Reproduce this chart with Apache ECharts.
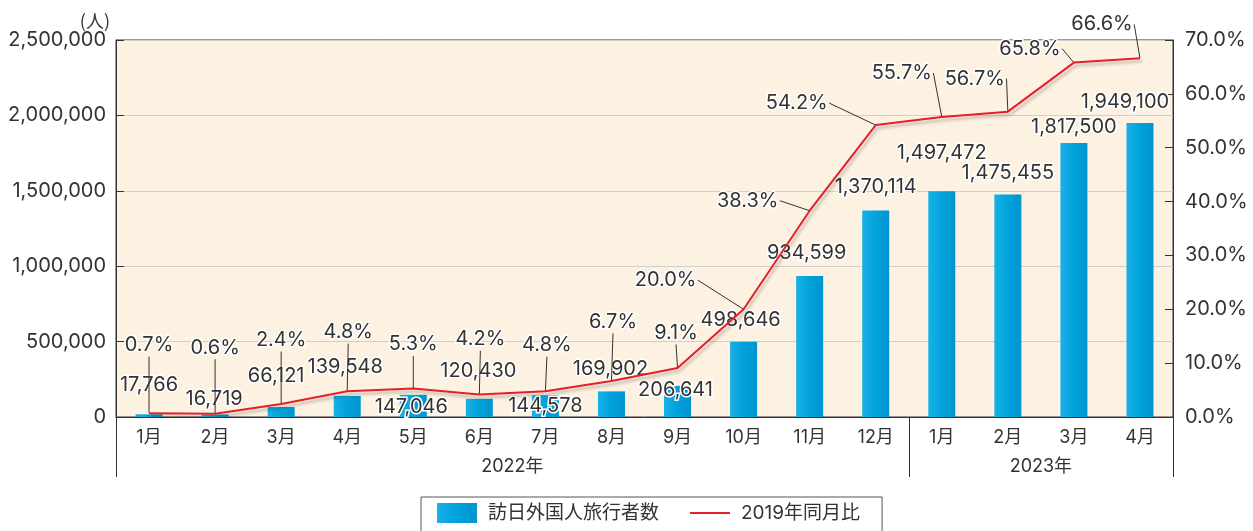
<!DOCTYPE html>
<html><head><meta charset="utf-8">
<script src="https://cdn.jsdelivr.net/npm/echarts@6/dist/echarts.min.js"></script>
<style>html,body{margin:0;padding:0;background:#fff;}#c{width:1253px;height:531px;}</style>
</head><body><div id="c"></div>
<script>
const months = ['1月','2月','3月','4月','5月','6月','7月','8月','9月','10月','11月','12月','1月','2月','3月','4月'];
const visitors = [17766,16719,66121,139548,147046,120430,144578,169902,206641,498646,934599,1370114,1497472,1475455,1817500,1949100];
const ratio2019 = [0.7,0.6,2.4,4.8,5.3,4.2,4.8,6.7,9.1,20.0,38.3,54.2,55.7,56.7,65.8,66.6];
const yearLabels = ['2022年','2023年'];
const yearLabelPos = [6,14];
const yearBounds = [0,12,16];
const leftTicks = [0,500000,1000000,1500000,2000000,2500000];
const rightTicks = [0,10,20,30,40,50,60,70];

// label offsets (styling only)
const barOff = [[0,-29],[-1,-15],[-5,-31],[-2,-29],[-2,12],[-1,-28],[0,11],[-1,-22],[-2,4],[-3,-22],[-3,-23],[0,-23],[0,-38],[0,-22],[0,-16],[-15,-21]];
const lineOff = [[0,-68],[0,-66],[0,-64],[1,-59],[0,-44],[1,-55],[1.5,-46],[1.5,-59],[-1.5,-35],[-78,-29],[-62,-10],[-79,-22],[-40,-44],[-33,-33],[-44,-14],[-38,-34]];

const chart = echarts.init(document.getElementById('c'));
const FONT = 'Inter,"Noto Sans CJK JP",sans-serif';
const JFONT = '"Noto Sans CJK JP","Noto Sans",sans-serif';
const TXT = '#333';
chart.setOption({
  animation:false,
  textStyle:{fontFamily:FONT,color:TXT},
  grid:{left:116,right:80,top:40,bottom:114,show:true,backgroundColor:'#fdf1e1',borderColor:'#333',borderWidth:1},
  legend:{
    top:497,left:421,
    data:[{name:'訪日外国人旅行者数',icon:'rect'},{name:'2019年同月比'}],
    itemWidth:40,itemHeight:20,itemGap:30,
    padding:[6,22,14,16],
    borderColor:'#555',borderWidth:1,
    textStyle:{fontSize:19,color:TXT,fontFamily:FONT,padding:[0,0,0,6]}
  },
  xAxis:[{
    type:'category',data:months,position:'bottom',
    axisLine:{show:true,lineStyle:{color:'#333'}},
    axisTick:{show:false},
    axisLabel:{fontSize:18,color:TXT,margin:12,interval:0,fontFamily:FONT}
  },{
    type:'value',min:0,max:16,position:'bottom',
    axisLine:{show:false},
    splitLine:{show:false},
    axisTick:{show:true,inside:false,length:60,lineStyle:{color:'#333'},customValues:yearBounds},
    axisLabel:{fontSize:18,color:TXT,margin:41,customValues:yearLabelPos,fontFamily:FONT,
      formatter:function(v){const i=yearLabelPos.indexOf(v);return i>=0?yearLabels[i]:'';}}
  }],
  yAxis:[{
    type:'value',min:0,max:2500000,interval:500000,
    name:'(人)',nameGap:10,nameTextStyle:{fontSize:18,color:TXT,align:'right',padding:[0,6,0,0],fontFamily:JFONT},
    axisLine:{show:true,lineStyle:{color:'#333'}},
    axisTick:{show:true,inside:true,length:8,lineStyle:{color:'#333'}},
    splitLine:{show:true,lineStyle:{color:'#cfcfcf'}},
    axisLabel:{fontSize:20,color:TXT,margin:10,customValues:leftTicks,fontFamily:FONT,
      formatter:function(v){return v.toLocaleString('en-US');}}
  },{
    type:'value',min:0,max:70,interval:10,position:'right',
    axisLine:{show:true,lineStyle:{color:'#333'}},
    axisTick:{show:true,inside:true,length:8,lineStyle:{color:'#333'}},
    splitLine:{show:false},
    axisLabel:{fontSize:20,color:TXT,margin:12,customValues:rightTicks,fontFamily:FONT,
      formatter:function(v){return v.toFixed(1)+'%';}}
  }],
  series:[{
    name:'訪日外国人旅行者数',type:'bar',data:visitors,barWidth:27,
    xAxisIndex:0,yAxisIndex:0,
    itemStyle:{color:new echarts.graphic.LinearGradient(0,0,1,0,[{offset:0,color:'#19b0e6'},{offset:0.5,color:'#00a2dc'},{offset:1,color:'#0094d0'}])},
    label:{show:true,position:'top',distance:0,verticalAlign:'middle',fontSize:20,color:TXT,fontFamily:FONT,
      textBorderColor:'#fff',textBorderWidth:3,
      formatter:function(p){return p.value.toLocaleString('en-US');}},
    labelLayout:function(p){const o=barOff[p.dataIndex];return {dx:o[0],dy:o[1]};},
    z:2
  },{
    name:'2019年同月比',type:'line',data:ratio2019,
    xAxisIndex:0,yAxisIndex:1,
    symbol:'circle',symbolSize:1,showSymbol:true,
    itemStyle:{color:'rgba(228,32,43,0)'},
    lineStyle:{color:'#e4202b',width:2,shadowColor:'rgba(0,0,0,0.25)',shadowBlur:3,shadowOffsetX:2,shadowOffsetY:3},
    label:{show:true,position:'inside',verticalAlign:'middle',fontSize:20,color:TXT,fontFamily:FONT,
      textBorderColor:'#fff',textBorderWidth:3,padding:[2,6,8,6],
      formatter:function(p){return p.value.toFixed(1)+'%';}},
    labelLayout:function(p){const o=lineOff[p.dataIndex];return {dx:o[0],dy:o[1]};},
    labelLine:{show:true,lineStyle:{color:'#333',width:1}},
    z:3
  }]
});
</script></body></html>
